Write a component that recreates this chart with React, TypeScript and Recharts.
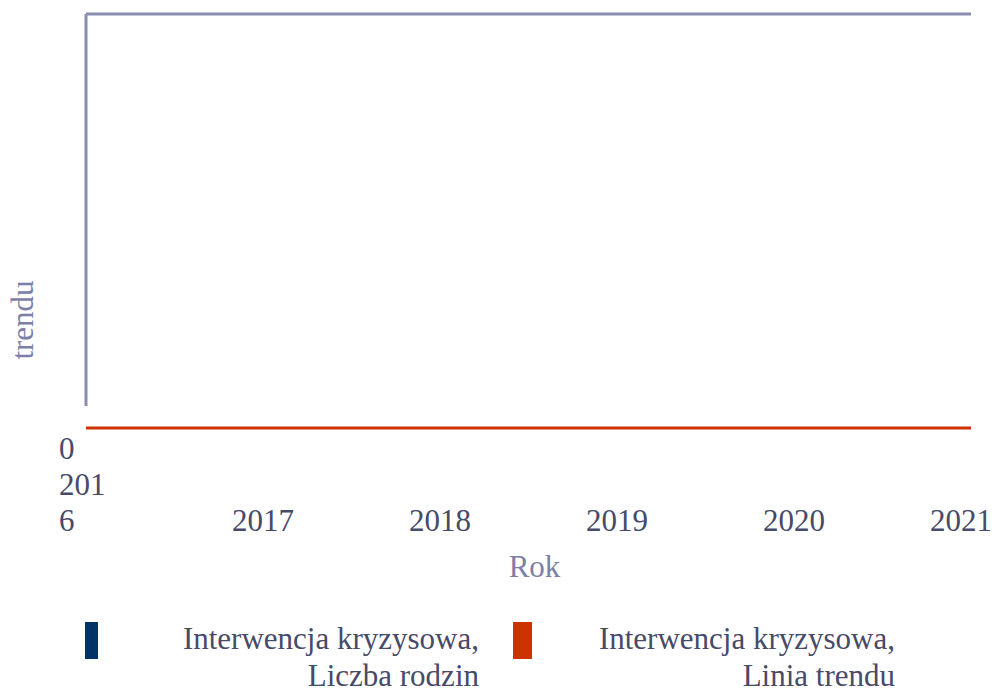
import {
  LineChart,
  Line,
  XAxis,
  YAxis,
  ReferenceLine,
} from "recharts";

const years = [2016, 2017, 2018, 2019, 2020, 2021];
const liczbaRodzin: (number | null)[] = [null, null, null, null, null, null];
const liniaTrendu = [0, 0, 0, 0, 0, 0];
const yTicks = [0];
const seriesNames = [
  ["Interwencja kryzysowa,", "Liczba rodzin"],
  ["Interwencja kryzysowa,", "Linia trendu"],
];
const seriesColors = ["#003366", "#cc3300"];

const data = years.map((year, i) => ({
  year,
  rodziny: liczbaRodzin[i],
  trend: liniaTrendu[i],
}));

const FONT = "Liberation Serif, DejaVu Serif, serif";
const FS = 31;
const TICK = "#474a68";
const LABEL = "#7c80a8";
const FRAME = "#8a8db0";

function XTick(props: any) {
  const { x, y, payload } = props;
  const v = payload.value;
  if (v === years[0]) {
    return (
      <text x={x - 27} y={y} textAnchor="start" fill={TICK} fontSize={FS} style={{ fontFamily: FONT }}>
        <tspan x={x - 27} dy={67}>{String(v).slice(0, 3)}</tspan>
        <tspan x={x - 27} dy={36}>{String(v).slice(3)}</tspan>
      </text>
    );
  }
  const last = v === years[years.length - 1];
  return (
    <text
      x={last ? x + 21 : x}
      y={y + 103}
      textAnchor={last ? "end" : "middle"}
      fill={TICK}
      fontSize={FS}
      style={{ fontFamily: FONT }}
    >
      {v}
    </text>
  );
}

function YTick(props: any) {
  const { x, y, payload } = props;
  return (
    <text x={x - 27} y={y + 31} textAnchor="start" fill={TICK} fontSize={FS} style={{ fontFamily: FONT }}>
      {payload.value}
    </text>
  );
}

export default function App() {
  return (
    <div style={{ position: "relative", width: 995, height: 692, background: "#fff", fontFamily: FONT }}>
      <style>{"body{margin:0}"}</style>
      <LineChart
        width={995}
        height={692}
        data={data}
        margin={{ top: 14, right: 24, left: 0, bottom: 104 }}
      >
        <XAxis
          dataKey="year"
          type="number"
          domain={[2016, 2021]}
          ticks={years}
          interval={0}
          height={160}
          axisLine={false}
          tickLine={false}
          tickSize={0}
          tickMargin={0}
          tick={<XTick />}
          label={(p: any) => {
            const vb = p.viewBox;
            return (
              <text
                x={vb.x + vb.width / 2 + 6}
                y={vb.y + 149}
                textAnchor="middle"
                fill={LABEL}
                fontSize={FS}
                style={{ fontFamily: FONT }}
              >
                Rok
              </text>
            );
          }}
        />
        <YAxis
          domain={[0, 1]}
          ticks={yTicks}
          width={86}
          axisLine={false}
          tickLine={false}
          tickSize={0}
          tickMargin={0}
          tick={<YTick />}
          label={(p: any) => {
            const vb = p.viewBox;
            const cx = vb.x + 22;
            const cy = vb.y + 306;
            return (
              <text
                x={cx}
                y={cy}
                transform={`rotate(-90 ${cx} ${cy})`}
                textAnchor="middle"
                dominantBaseline="central"
                fill={LABEL}
                fontSize={FS}
                style={{ fontFamily: FONT }}
              >
                trendu
              </text>
            );
          }}
        />
        <ReferenceLine
          segment={[
            { x: 2016, y: 1 },
            { x: 2021, y: 1 },
          ]}
          stroke={FRAME}
          strokeWidth={3}
        />
        <ReferenceLine
          segment={[
            { x: 2016, y: 1 },
            { x: 2016, y: 0.053 },
          ]}
          stroke={FRAME}
          strokeWidth={3}
        />
        <Line
          dataKey="rodziny"
          name={seriesNames[0].join(" ")}
          stroke={seriesColors[0]}
          strokeWidth={3}
          dot={false}
          isAnimationActive={false}
        />
        <Line
          dataKey="trend"
          name={seriesNames[1].join(" ")}
          stroke={seriesColors[1]}
          strokeWidth={3}
          dot={false}
          isAnimationActive={false}
        />
      </LineChart>
      {seriesNames.map((lines, i) => {
        const swatchLeft = [85, 513][i];
        const swatchW = [13, 19][i];
        const textRight = [479, 895][i];
        return (
          <div key={i}>
            <div
              style={{
                position: "absolute",
                left: swatchLeft,
                top: 622,
                width: swatchW,
                height: 37,
                background: seriesColors[i],
              }}
            />
            <div
              style={{
                position: "absolute",
                right: 995 - textRight,
                top: 620,
                textAlign: "right",
                fontSize: FS,
                lineHeight: "37px",
                color: TICK,
                whiteSpace: "nowrap",
              }}
            >
              {lines.map((l) => (
                <div key={l}>{l}</div>
              ))}
            </div>
          </div>
        );
      })}
    </div>
  );
}
